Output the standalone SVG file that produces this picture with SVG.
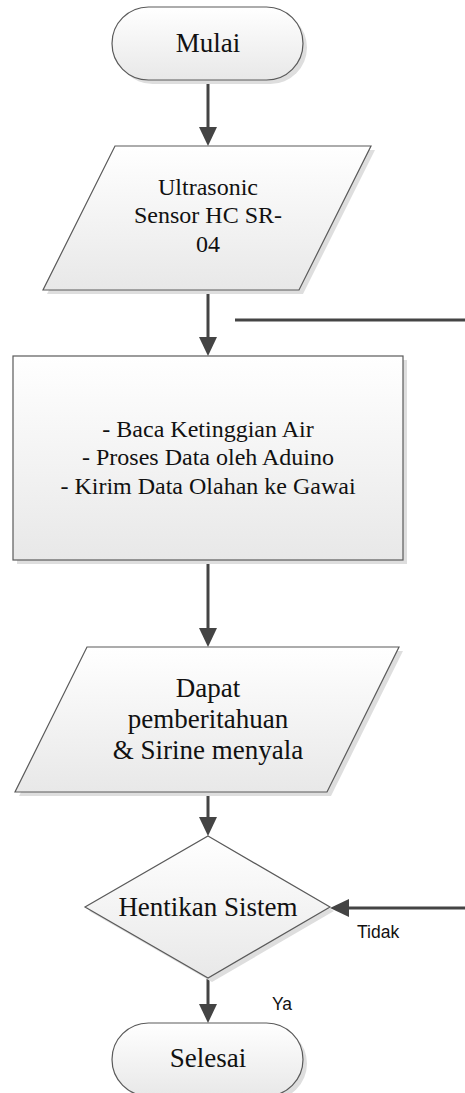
<svg xmlns="http://www.w3.org/2000/svg" width="465" height="1093" viewBox="0 0 465 1093">
<style>
.shape{fill:url(#g);stroke:#5a5a5a;stroke-width:1.2}
.shadow{fill:#dedede}
.t{font-family:"Liberation Serif","Times New Roman",serif;fill:#111;text-anchor:middle}
.s{font-size:24px}
.b{font-size:27px}
.lbl{font-family:"Liberation Sans",Arial,sans-serif;font-size:17.5px;fill:#111}
.c{fill:none;stroke:#444;stroke-width:3}
</style>
<defs>
<linearGradient id="g" x1="0" y1="0" x2="0" y2="1">
<stop offset="0" stop-color="#ffffff"/>
<stop offset="1" stop-color="#e8e8e8"/>
</linearGradient>
<marker id="ah" viewBox="0 0 19 18" refX="9" refY="9" markerWidth="19" markerHeight="18" markerUnits="userSpaceOnUse" orient="auto">
<path d="M0,0 L19,9 L0,18 z" fill="#444"/>
</marker>
</defs>
<g id="connectors">
<line class="c" x1="208" y1="80" x2="208" y2="136" marker-end="url(#ah)"/>
<line class="c" x1="208" y1="290" x2="208" y2="346" marker-end="url(#ah)"/>
<line class="c" x1="208" y1="560" x2="208" y2="637" marker-end="url(#ah)"/>
<line class="c" x1="208" y1="792" x2="208" y2="826" marker-end="url(#ah)"/>
<line class="c" x1="208" y1="978" x2="208" y2="1013" marker-end="url(#ah)"/>
<line class="c" x1="465" y1="908" x2="340" y2="908" marker-end="url(#ah)"/>
<line class="c" x1="235" y1="320" x2="465" y2="320"/>
<text class="lbl" x="357" y="938">Tidak</text>
<text class="lbl" x="272" y="1010">Ya</text>
</g>
<g id="mulai">
<rect class="shadow" x="116" y="11" width="191" height="73" rx="36.5"/>
<rect class="shape" x="112" y="7" width="191" height="73" rx="36.5"/>
<text class="t b" x="208" y="52">Mulai</text>
</g>
<g id="sensor">
<polygon class="shadow" points="119,150 375,150 303,294 47,294"/>
<polygon class="shape" points="115,146 371,146 299,290 43,290"/>
<text class="t s" x="208" y="195">Ultrasonic</text>
<text class="t s" x="208" y="223">Sensor HC SR-</text>
<text class="t s" x="208" y="252">04</text>
</g>
<g id="proses">
<rect class="shadow" x="17" y="360" width="390" height="204"/>
<rect class="shape" x="13" y="356" width="390" height="204"/>
<text class="t s" x="208" y="437">- Baca Ketinggian Air</text>
<text class="t s" x="208" y="465">- Proses Data oleh Aduino</text>
<text class="t s" x="208" y="494">- Kirim Data Olahan ke Gawai</text>
</g>
<g id="notifikasi">
<polygon class="shadow" points="91,651 403,651 331,796 19,796"/>
<polygon class="shape" points="87,647 399,647 327,792 15,792"/>
<text class="t b" x="208" y="697">Dapat</text>
<text class="t b" x="208" y="728">pemberitahuan</text>
<text class="t b" x="208" y="759">&amp; Sirine menyala</text>
</g>
<g id="hentikan">
<polygon class="shadow" points="212,840 334,911 212,982 89,911"/>
<polygon class="shape" points="208,836 330,907 208,978 85,907"/>
<text class="t b" x="208" y="916">Hentikan Sistem</text>
</g>
<g id="selesai">
<rect class="shadow" x="116" y="1027" width="191" height="73" rx="36.5"/>
<rect class="shape" x="112" y="1023" width="191" height="73" rx="36.5"/>
<text class="t b" x="208" y="1067">Selesai</text>
</g>
</svg>
